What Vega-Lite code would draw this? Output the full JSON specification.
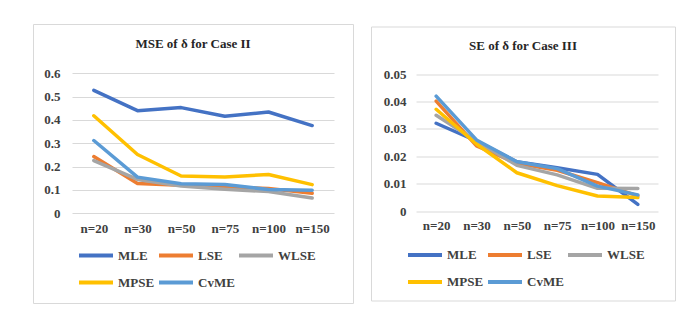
{
  "$schema": "https://vega.github.io/schema/vega-lite/v6.json",
  "padding": {"left": 32, "top": 23, "right": 0, "bottom": 0},
  "bounds": "flush",
  "spacing": 18,
  "center": true,
  "background": "white",
  "config": {
    "font": "Liberation Serif",
    "view": {"stroke": "#d9d9d9", "strokeWidth": 1},
    "axis": {
      "domain": false, "ticks": false, "tickSize": 0,
      "labelFont": "Liberation Serif", "labelFontSize": 13, "labelFontWeight": "bold",
      "labelColor": "#404040", "labelPadding": 0,
      "gridColor": "#d9d9d9", "gridWidth": 1, "title": null
    },
    "legend": {
      "symbolType": "stroke", "symbolSize": 1156, "symbolStrokeWidth": 4,
      "labelFont": "Liberation Serif", "labelFontSize": 13, "labelFontWeight": "bold",
      "labelColor": "#404040", "columnPadding": -5, "rowPadding": -10.5, "labelOffset": 3,
      "padding": 0, "title": null, "direction": "horizontal", "gridAlign": "all"
    },
    "title": {
      "font": "Liberation Serif", "fontSize": 13, "fontWeight": "bold", "color": "#262626",
      "anchor": "middle", "frame": "group", "baseline": "middle"
    }
  },
  "resolve": {
    "scale": {"color": "independent", "x": "independent", "y": "independent"},
    "legend": {"color": "independent"}
  },
  "datasets": {
    "mse": [
      {"n": "n=20", "method": "MLE", "v": 0.527},
      {"n": "n=30", "method": "MLE", "v": 0.440},
      {"n": "n=50", "method": "MLE", "v": 0.453},
      {"n": "n=75", "method": "MLE", "v": 0.416},
      {"n": "n=100", "method": "MLE", "v": 0.434},
      {"n": "n=150", "method": "MLE", "v": 0.376},
      {"n": "n=20", "method": "LSE", "v": 0.243},
      {"n": "n=30", "method": "LSE", "v": 0.128},
      {"n": "n=50", "method": "LSE", "v": 0.120},
      {"n": "n=75", "method": "LSE", "v": 0.113},
      {"n": "n=100", "method": "LSE", "v": 0.106},
      {"n": "n=150", "method": "LSE", "v": 0.086},
      {"n": "n=20", "method": "WLSE", "v": 0.226},
      {"n": "n=30", "method": "WLSE", "v": 0.145},
      {"n": "n=50", "method": "WLSE", "v": 0.117},
      {"n": "n=75", "method": "WLSE", "v": 0.103},
      {"n": "n=100", "method": "WLSE", "v": 0.093},
      {"n": "n=150", "method": "WLSE", "v": 0.066},
      {"n": "n=20", "method": "MPSE", "v": 0.418},
      {"n": "n=30", "method": "MPSE", "v": 0.252},
      {"n": "n=50", "method": "MPSE", "v": 0.160},
      {"n": "n=75", "method": "MPSE", "v": 0.156},
      {"n": "n=100", "method": "MPSE", "v": 0.166},
      {"n": "n=150", "method": "MPSE", "v": 0.123},
      {"n": "n=20", "method": "CvME", "v": 0.312},
      {"n": "n=30", "method": "CvME", "v": 0.155},
      {"n": "n=50", "method": "CvME", "v": 0.127},
      {"n": "n=75", "method": "CvME", "v": 0.123},
      {"n": "n=100", "method": "CvME", "v": 0.102},
      {"n": "n=150", "method": "CvME", "v": 0.099}
    ],
    "se": [
      {"n": "n=20", "method": "MLE", "v": 0.0321},
      {"n": "n=30", "method": "MLE", "v": 0.0256},
      {"n": "n=50", "method": "MLE", "v": 0.0180},
      {"n": "n=75", "method": "MLE", "v": 0.0158},
      {"n": "n=100", "method": "MLE", "v": 0.0134},
      {"n": "n=150", "method": "MLE", "v": 0.0024},
      {"n": "n=20", "method": "LSE", "v": 0.0402},
      {"n": "n=30", "method": "LSE", "v": 0.0238},
      {"n": "n=50", "method": "LSE", "v": 0.0175},
      {"n": "n=75", "method": "LSE", "v": 0.0149},
      {"n": "n=100", "method": "LSE", "v": 0.0104},
      {"n": "n=150", "method": "LSE", "v": 0.0055},
      {"n": "n=20", "method": "WLSE", "v": 0.0350},
      {"n": "n=30", "method": "WLSE", "v": 0.0255},
      {"n": "n=50", "method": "WLSE", "v": 0.0167},
      {"n": "n=75", "method": "WLSE", "v": 0.0132},
      {"n": "n=100", "method": "WLSE", "v": 0.0083},
      {"n": "n=150", "method": "WLSE", "v": 0.0082},
      {"n": "n=20", "method": "MPSE", "v": 0.0372},
      {"n": "n=30", "method": "MPSE", "v": 0.0245},
      {"n": "n=50", "method": "MPSE", "v": 0.0140},
      {"n": "n=75", "method": "MPSE", "v": 0.0093},
      {"n": "n=100", "method": "MPSE", "v": 0.0055},
      {"n": "n=150", "method": "MPSE", "v": 0.0049},
      {"n": "n=20", "method": "CvME", "v": 0.0420},
      {"n": "n=30", "method": "CvME", "v": 0.0260},
      {"n": "n=50", "method": "CvME", "v": 0.0180},
      {"n": "n=75", "method": "CvME", "v": 0.0155},
      {"n": "n=100", "method": "CvME", "v": 0.0091},
      {"n": "n=150", "method": "CvME", "v": 0.0059}
    ]
  },
  "hconcat": [
    {
      "data": {"name": "mse"},
      "width": 320,
      "height": 279,
      "title": {"text": "MSE of δ for Case II", "offset": -27},
      "mark": {"type": "line", "strokeWidth": 3.5, "strokeJoin": "round", "strokeCap": "round"},
      "encoding": {
        "x": {
          "field": "n", "type": "ordinal",
          "sort": ["n=20", "n=30", "n=50", "n=75", "n=100", "n=150"],
          "scale": {"type": "point", "range": [39, 301], "padding": 0.5},
          "axis": {"labelAngle": 0, "offset": -80.5, "grid": false, "labelFont": "Liberation Serif", "labelFontWeight": "bold"}
        },
        "y": {
          "field": "v", "type": "quantitative",
          "scale": {"domain": [0, 0.6], "range": [189.3, 49.3], "nice": false},
          "axis": {"values": [0, 0.1, 0.2, 0.3, 0.4, 0.5, 0.6], "format": "~g", "offset": -27, "grid": true, "labelFont": "Liberation Serif", "labelFontWeight": "bold"}
        },
        "color": {
          "field": "method", "type": "nominal",
          "scale": {"domain": ["MLE", "LSE", "WLSE", "MPSE", "CvME"], "range": ["#4472C4", "#ED7D31", "#A5A5A5", "#FFC000", "#5B9BD5"]},
          "legend": {"orient": "none", "legendX": 44, "legendY": 212.5, "columns": 3, "direction": "horizontal"}
        }
      }
    },
    {
      "data": {"name": "se"},
      "width": 304,
      "height": 274,
      "title": {"text": "SE of δ for Case III", "offset": -26.5},
      "mark": {"type": "line", "strokeWidth": 3.5, "strokeJoin": "round", "strokeCap": "round"},
      "encoding": {
        "x": {
          "field": "n", "type": "ordinal",
          "sort": ["n=20", "n=30", "n=50", "n=75", "n=100", "n=150"],
          "scale": {"type": "point", "range": [45, 287], "padding": 0.5},
          "axis": {"labelAngle": 0, "offset": -81, "grid": false, "labelFont": "Liberation Serif", "labelFontWeight": "bold"}
        },
        "y": {
          "field": "v", "type": "quantitative",
          "scale": {"domain": [0, 0.05], "range": [184.5, 47.8], "nice": false},
          "axis": {"values": [0, 0.01, 0.02, 0.03, 0.04, 0.05], "format": "~g", "offset": -35, "grid": true, "labelFont": "Liberation Serif", "labelFontWeight": "bold"}
        },
        "color": {
          "field": "method", "type": "nominal",
          "scale": {"domain": ["MLE", "LSE", "WLSE", "MPSE", "CvME"], "range": ["#4472C4", "#ED7D31", "#A5A5A5", "#FFC000", "#5B9BD5"]},
          "legend": {"orient": "none", "legendX": 35, "legendY": 209.5, "columns": 3, "direction": "horizontal", "rowPadding": -11}
        }
      }
    }
  ]
}
